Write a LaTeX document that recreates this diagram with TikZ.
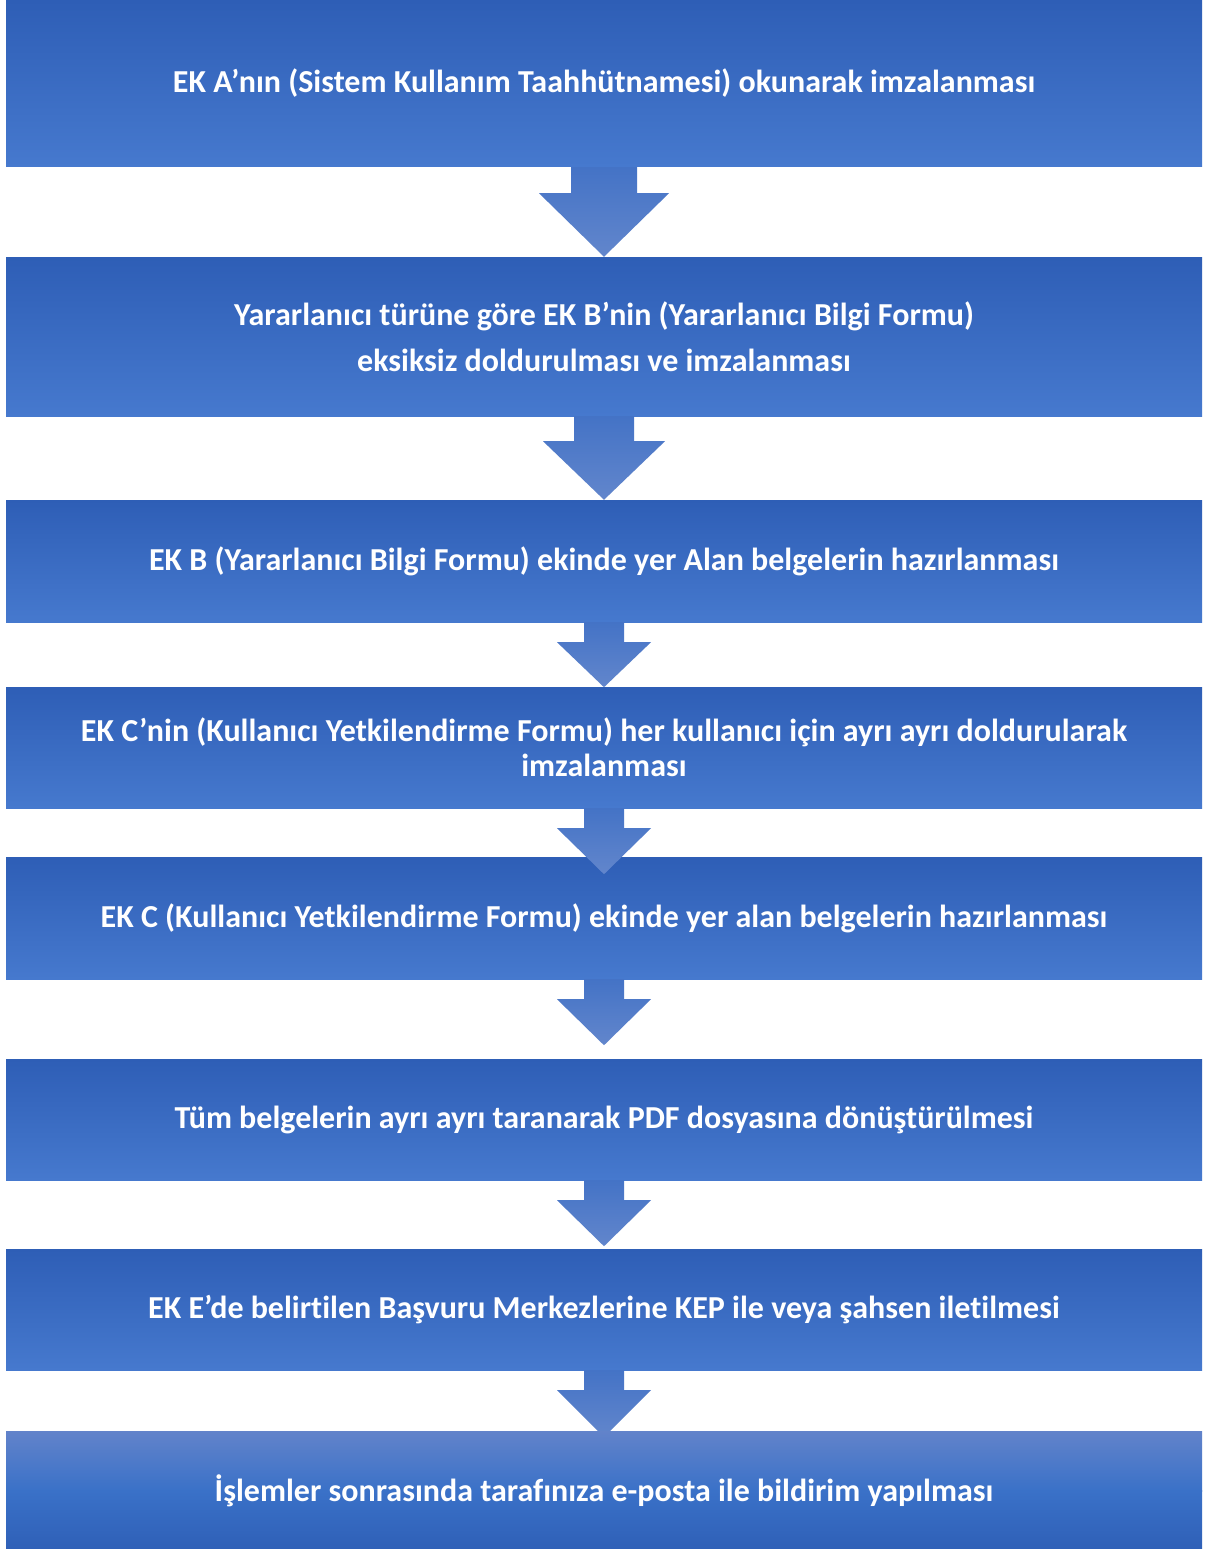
\documentclass[tikz,border=0pt]{standalone}
\usepackage{fontspec}
\setmainfont{Carlito}[Ligatures={NoCommon}]
\begin{document}
\begin{tikzpicture}[x=1pt,y=-1pt,
  box/.style={rectangle, inner sep=0pt, minimum width=1196pt, text=white,
    font=\fontsize{32}{35}\selectfont\bfseries, align=center,
    top color=boxtop, bottom color=boxbot},
  arr/.style={top color=arrtop, bottom color=arrbot, draw=none}]
\definecolor{boxtop}{RGB}{46,94,182}
\definecolor{boxbot}{RGB}{70,121,206}
\definecolor{arrtop}{RGB}{68,115,198}
\definecolor{arrbot}{RGB}{98,134,204}
\definecolor{lasttop}{RGB}{98,131,202}
\definecolor{lastmid}{RGB}{58,113,200}
\definecolor{lastbot}{RGB}{47,96,183}
\useasboundingbox[fill=white] (0,0) rectangle (1205,1549);
% boxes
\node[box, minimum height=167pt] (b1) at (604,83.5) {EK A’nın (Sistem Kullanım Taahhütnamesi) okunarak imzalanması};
\node[box, minimum height=159pt, font=\fontsize{32}{46}\selectfont\bfseries] (b2) at (604,336.5) {Yararlanıcı türüne göre EK B’nin (Yararlanıcı Bilgi Formu)\\eksiksiz doldurulması ve imzalanması};
\node[box, minimum height=122pt] (b3) at (604,561) {EK B (Yararlanıcı Bilgi Formu) ekinde yer Alan belgelerin hazırlanması};
\node[box, minimum height=121pt] (b4) at (604,747.5) {EK C’nin (Kullanıcı Yetkilendirme Formu) her kullanıcı için ayrı ayrı doldurularak\\imzalanması};
\node[box, minimum height=122pt] (b5) at (604,918) {EK C (Kullanıcı Yetkilendirme Formu) ekinde yer alan belgelerin hazırlanması};
\node[box, minimum height=121pt] (b6) at (604,1119.5) {Tüm belgelerin ayrı ayrı taranarak PDF dosyasına dönüştürülmesi};
\node[box, minimum height=121pt] (b7) at (604,1309.5) {EK E’de belirtilen Başvuru Merkezlerine KEP ile veya şahsen iletilmesi};
% arrows
\shade[arr] ([xshift=-33pt]b1.south) -- ([xshift=33pt]b1.south) -- ([xshift=33pt,yshift=-26pt]b1.south) -- ([xshift=65pt,yshift=-26pt]b1.south) -- (b2.north) -- ([xshift=-65pt,yshift=-26pt]b1.south) -- ([xshift=-33pt,yshift=-26pt]b1.south) -- cycle;
\shade[arr] ([xshift=-30pt]b2.south) -- ([xshift=30pt]b2.south) -- ([xshift=30pt,yshift=-25pt]b2.south) -- ([xshift=61pt,yshift=-25pt]b2.south) -- (b3.north) -- ([xshift=-61pt,yshift=-25pt]b2.south) -- ([xshift=-30pt,yshift=-25pt]b2.south) -- cycle;
\shade[arr] ([xshift=-20pt]b3.south) -- ([xshift=20pt]b3.south) -- ([xshift=20pt,yshift=-20pt]b3.south) -- ([xshift=47pt,yshift=-20pt]b3.south) -- ([yshift=-65pt]b3.south) -- ([xshift=-47pt,yshift=-20pt]b3.south) -- ([xshift=-20pt,yshift=-20pt]b3.south) -- cycle;
\shade[arr] ([xshift=-20pt]b4.south) -- ([xshift=20pt]b4.south) -- ([xshift=20pt,yshift=-20pt]b4.south) -- ([xshift=47pt,yshift=-20pt]b4.south) -- ([yshift=-66pt]b4.south) -- ([xshift=-47pt,yshift=-20pt]b4.south) -- ([xshift=-20pt,yshift=-20pt]b4.south) -- cycle;
\shade[arr] ([xshift=-20pt]b5.south) -- ([xshift=20pt]b5.south) -- ([xshift=20pt,yshift=-20pt]b5.south) -- ([xshift=47pt,yshift=-20pt]b5.south) -- ([yshift=-66pt]b5.south) -- ([xshift=-47pt,yshift=-20pt]b5.south) -- ([xshift=-20pt,yshift=-20pt]b5.south) -- cycle;
\shade[arr] ([xshift=-20pt]b6.south) -- ([xshift=20pt]b6.south) -- ([xshift=20pt,yshift=-20pt]b6.south) -- ([xshift=47pt,yshift=-20pt]b6.south) -- ([yshift=-66pt]b6.south) -- ([xshift=-47pt,yshift=-20pt]b6.south) -- ([xshift=-20pt,yshift=-20pt]b6.south) -- cycle;
\shade[arr] ([xshift=-20pt]b7.south) -- ([xshift=20pt]b7.south) -- ([xshift=20pt,yshift=-20pt]b7.south) -- ([xshift=47pt,yshift=-20pt]b7.south) -- ([yshift=-67pt]b7.south) -- ([xshift=-47pt,yshift=-20pt]b7.south) -- ([xshift=-20pt,yshift=-20pt]b7.south) -- cycle;
% last box with three-stop gradient
\shade[top color=lasttop, bottom color=lastmid] (6,1431) rectangle (1202,1491);
\shade[top color=lastmid, bottom color=lastbot] (6,1490.5) rectangle (1202,1549);
\node[text=white, font=\fontsize{32}{35}\selectfont\bfseries, inner sep=0pt] (b8) at (604,1491) {İşlemler sonrasında tarafınıza e-posta ile bildirim yapılması};
\end{tikzpicture}
\end{document}
